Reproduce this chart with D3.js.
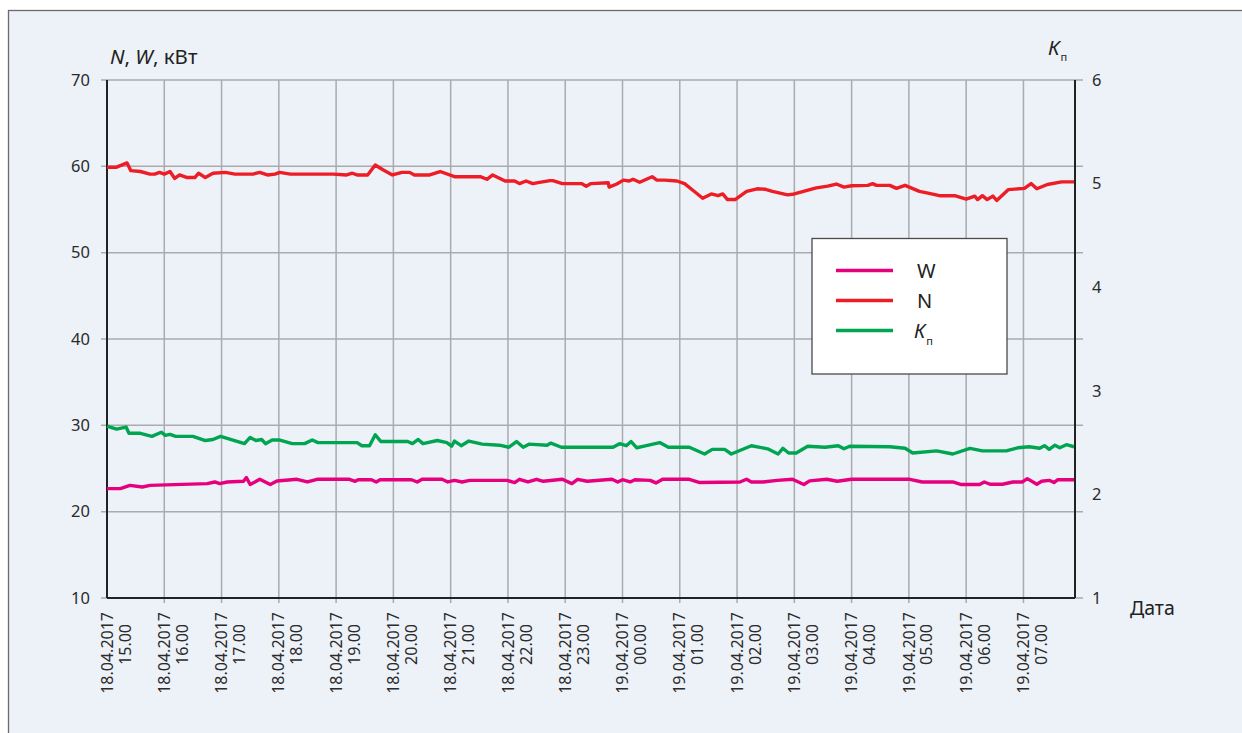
<!DOCTYPE html>
<html><head><meta charset="utf-8">
<script src="https://cdn.jsdelivr.net/npm/d3@7"></script>
<style>
body{margin:0;background:#fff;}
svg{display:block;font-family:"Noto Sans","Open Sans",sans-serif;}
</style></head>
<body>
<svg id="c" width="1242" height="733"></svg>
<script>
// minutes since 18.04.2017 15:00
const nTime = [0,10,21,25,35,45,50,55,60,66,71,76,84,92,96,103,111,124,134,153,160,168,176,181,192,237,251,257,262,273,281,289,299,309,317,322,338,349,364,391,398,404,417,427,432,439,446,453,464,467,477,497,502,507,525,526,534,541,547,551,558,571,576,584,597,605,614,624,633,640,645,650,658,670,681,689,697,713,720,743,755,764,772,780,797,802,806,820,827,836,851,860,872,888,900,909,912,917,922,928,932,944,961,968,974,985,1000,1013];
const nValues = [59.9,59.9,60.4,59.5,59.4,59.1,59.1,59.3,59.1,59.4,58.6,59.0,58.7,58.7,59.2,58.7,59.2,59.3,59.1,59.1,59.3,59.0,59.1,59.3,59.1,59.1,59.0,59.2,59.0,59.0,60.15,59.6,59.0,59.3,59.3,59.0,59.0,59.4,58.8,58.8,58.5,59.0,58.3,58.3,58.0,58.3,58.0,58.15,58.35,58.35,58.0,58.0,57.7,58.0,58.1,57.6,57.95,58.4,58.3,58.5,58.15,58.8,58.4,58.4,58.3,58.0,57.2,56.3,56.8,56.6,56.8,56.15,56.15,57.1,57.4,57.35,57.1,56.7,56.8,57.5,57.7,57.95,57.6,57.75,57.8,58.0,57.8,57.8,57.45,57.8,57.1,56.9,56.6,56.6,56.2,56.55,56.15,56.6,56.15,56.55,56.05,57.3,57.45,58.0,57.4,57.9,58.2,58.2];

const wTime = [0,14,24,37,45,105,113,118,126,143,146,150,160,171,178,199,210,220,254,260,263,277,282,286,319,325,330,351,357,364,372,380,419,427,432,441,450,457,477,487,493,503,529,535,540,548,553,569,575,582,610,621,663,670,675,687,702,718,730,736,754,765,780,841,854,886,895,914,919,925,938,949,959,964,974,979,987,992,996,1013];
const wValues = [22.67,22.67,23.05,22.86,23.05,23.25,23.44,23.25,23.44,23.52,23.95,23.14,23.75,23.14,23.56,23.75,23.44,23.75,23.75,23.52,23.7,23.7,23.44,23.7,23.7,23.44,23.75,23.75,23.44,23.63,23.44,23.63,23.63,23.37,23.75,23.44,23.75,23.52,23.75,23.25,23.75,23.52,23.75,23.44,23.7,23.44,23.7,23.63,23.33,23.75,23.75,23.37,23.44,23.75,23.44,23.44,23.63,23.75,23.14,23.56,23.75,23.52,23.75,23.75,23.44,23.44,23.14,23.14,23.44,23.18,23.18,23.44,23.44,23.83,23.18,23.52,23.63,23.37,23.7,23.7];

const kTime = [0,10,20,23,35,47,57,61,66,72,90,103,111,119,144,150,156,162,166,173,181,194,207,215,221,262,267,275,281,287,315,320,326,331,346,356,361,364,371,379,393,411,421,429,436,442,461,465,476,530,537,544,549,555,565,579,588,610,626,634,647,654,675,692,703,708,714,722,734,752,766,772,778,820,836,844,869,886,904,917,942,954,966,977,982,987,993,998,1005,1013];
const kValues = [2.66,2.63,2.65,2.59,2.59,2.56,2.60,2.57,2.58,2.56,2.56,2.52,2.53,2.56,2.49,2.55,2.52,2.53,2.49,2.525,2.525,2.49,2.49,2.525,2.50,2.50,2.47,2.47,2.575,2.51,2.51,2.49,2.53,2.49,2.52,2.50,2.465,2.515,2.47,2.515,2.485,2.475,2.455,2.51,2.455,2.485,2.475,2.495,2.455,2.455,2.49,2.47,2.51,2.45,2.47,2.50,2.455,2.455,2.39,2.435,2.435,2.39,2.47,2.44,2.39,2.445,2.40,2.40,2.465,2.455,2.47,2.44,2.465,2.46,2.445,2.40,2.42,2.39,2.445,2.42,2.42,2.45,2.46,2.445,2.47,2.435,2.475,2.45,2.48,2.46];

const tickMinutes = [0,60,120,180,240,300,360,420,480,540,600,660,720,780,840,900,960];
const tickDates = ["18.04.2017","18.04.2017","18.04.2017","18.04.2017","18.04.2017","18.04.2017","18.04.2017","18.04.2017","18.04.2017","19.04.2017","19.04.2017","19.04.2017","19.04.2017","19.04.2017","19.04.2017","19.04.2017","19.04.2017"];
const tickHours = ["15.00","16.00","17.00","18.00","19.00","20.00","21.00","22.00","23.00","00.00","01.00","02.00","03.00","04.00","05.00","06.00","07.00"];
const leftTicks = [10,20,30,40,50,60,70];
const rightTicks = [1,2,3,4,5,6];

const colW = "#e6007e", colN = "#ee1d25", colK = "#00a551";

const svg = d3.select("#c");
const L = 107, R = 1075, T = 80, B = 598;
const x = d3.scaleLinear().domain([0,1014]).range([L,R]);
const yL = d3.scaleLinear().domain([10,70]).range([B,T]);
const yR = d3.scaleLinear().domain([1,6]).range([B,T]);

// frame
svg.append("rect").attr("x",8.5).attr("y",10.5).attr("width",1250).attr("height",740)
  .attr("fill","#edf1f8").attr("stroke","#6b6b6b").attr("stroke-width",1.3);

const grid = "#a9abae";
svg.append("g").selectAll("line").data(leftTicks).join("line")
  .attr("x1",L-6).attr("x2",R+8).attr("y1",d=>yL(d)).attr("y2",d=>yL(d))
  .attr("stroke",grid).attr("stroke-width",1.5);
svg.append("g").selectAll("line").data(tickMinutes.slice(1)).join("line")
  .attr("x1",d=>x(d)).attr("x2",d=>x(d)).attr("y1",T).attr("y2",B+5)
  .attr("stroke",grid).attr("stroke-width",1.5);

svg.append("line").attr("x1",L).attr("x2",L).attr("y1",T).attr("y2",B).attr("stroke","#222").attr("stroke-width",2);
svg.append("line").attr("x1",R).attr("x2",R).attr("y1",T).attr("y2",B).attr("stroke","#222").attr("stroke-width",2);
svg.append("line").attr("x1",L).attr("x2",R).attr("y1",B).attr("y2",B).attr("stroke","#222").attr("stroke-width",2);

svg.append("g").selectAll("text").data(leftTicks).join("text")
  .attr("x",90).attr("y",d=>yL(d)).attr("dy","0.35em").attr("text-anchor","end")
  .attr("font-size",16.5).attr("fill","#2b2b2b").text(d=>d);
svg.append("g").selectAll("text").data(rightTicks).join("text")
  .attr("x",1092).attr("y",d=>yR(d)).attr("dy","0.35em").attr("text-anchor","start")
  .attr("font-size",16.5).attr("fill","#2b2b2b").text(d=>d);

const xl = svg.append("g").selectAll("g").data(tickMinutes).join("g")
  .attr("transform",d=>`translate(${x(d)},612) rotate(-90)`);
xl.append("text").attr("x",0).attr("y",0).attr("dy","0.35em").attr("text-anchor","end")
  .attr("font-size",16).attr("fill","#2b2b2b").text((d,i)=>tickDates[i]);
xl.append("text").attr("x",-12).attr("y",18).attr("dy","0.35em").attr("text-anchor","end")
  .attr("font-size",16).attr("fill","#2b2b2b").text((d,i)=>tickHours[i]);

const t1 = svg.append("text").attr("x",110).attr("y",64).attr("font-size",20.5).attr("fill","#222");
t1.append("tspan").attr("font-style","italic").text("N");
t1.append("tspan").text(", ");
t1.append("tspan").attr("font-style","italic").text("W");
t1.append("tspan").text(", кВт");

const t2 = svg.append("text").attr("x",1048).attr("y",55).attr("font-size",20.5).attr("fill","#222");
t2.append("tspan").attr("font-style","italic").text("К");
t2.append("tspan").attr("font-size",11).attr("dy",6).attr("dx",1).text("п");

svg.append("text").attr("x",1130).attr("y",615).attr("font-size",19.5).attr("fill","#222").text("Дата");

const line = (xs, ys, yScale) => d3.line().x((d,i)=>x(xs[i])).y((d,i)=>yScale(ys[i]))(ys);
svg.append("path").attr("d",line(kTime,kValues,yR)).attr("fill","none").attr("stroke",colK).attr("stroke-width",3.4).attr("stroke-linejoin","round");
svg.append("path").attr("d",line(wTime,wValues,yL)).attr("fill","none").attr("stroke",colW).attr("stroke-width",3.4).attr("stroke-linejoin","round");
svg.append("path").attr("d",line(nTime,nValues,yL)).attr("fill","none").attr("stroke",colN).attr("stroke-width",3.4).attr("stroke-linejoin","round");

const lg = svg.append("g");
lg.append("rect").attr("x",812).attr("y",238.5).attr("width",195).attr("height",135.5)
  .attr("fill","#fff").attr("stroke","#4a4a4a").attr("stroke-width",1.3);
const legItems = [{c:colW,t:"W",ital:false},{c:colN,t:"N",ital:false},{c:colK,t:"К",ital:true,sub:"п"}];
legItems.forEach((d,i)=>{
  const yy = 270.5 + i*30;
  lg.append("line").attr("x1",836).attr("x2",893).attr("y1",yy).attr("y2",yy).attr("stroke",d.c).attr("stroke-width",3.4);
  const tx = lg.append("text").attr("x",d.ital?914:917).attr("y",yy).attr("dy","0.35em").attr("font-size",20).attr("fill","#222");
  tx.append("tspan").attr("font-style",d.ital?"italic":"normal").text(d.t);
  if(d.sub) tx.append("tspan").attr("font-size",11).attr("dy",7).attr("dx",1).text(d.sub);
});
</script>
</body></html>
